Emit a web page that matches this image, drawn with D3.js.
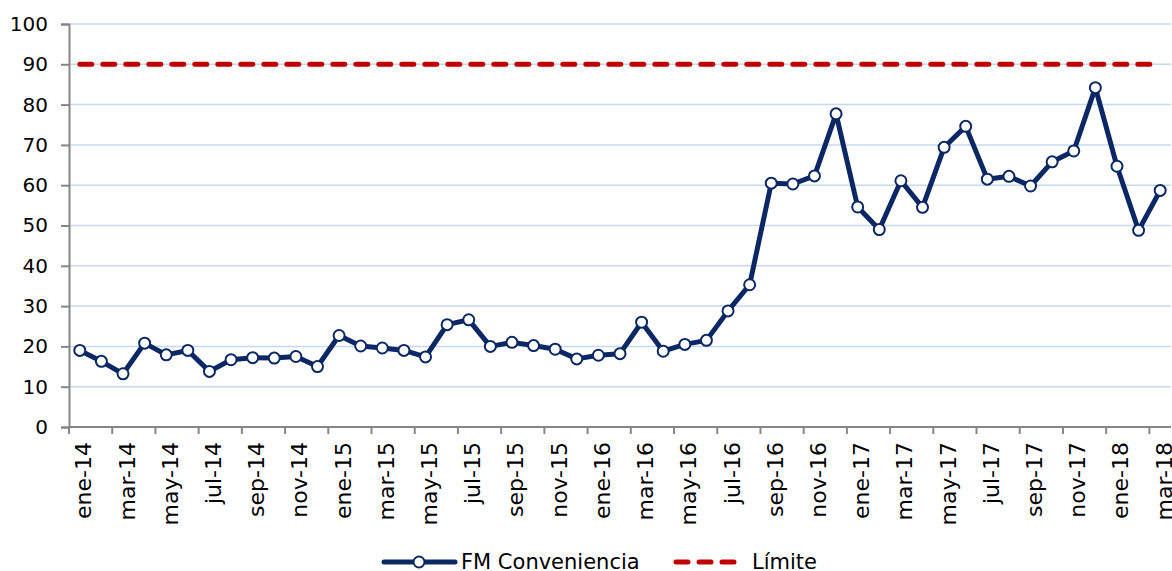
<!DOCTYPE html>
<html><head><meta charset="utf-8">
<script src="https://cdn.jsdelivr.net/npm/d3@7"></script>
<style>
html,body{margin:0;padding:0;background:#fff;}
svg{display:block;font-family:Verdana,"DejaVu Sans",sans-serif;}
</style></head>
<body>
<svg id="chart" width="1172" height="571"></svg>
<script>
const months = ["ene","feb","mar","abr","may","jun","jul","ago","sep","oct","nov","dic"];
const categories = [];
for (const yr of ["14","15","16","17","18"]) for (const m of months) categories.push(m + "-" + yr);
categories.length = 51; // ene-14 .. mar-18

const fmConveniencia = [
  19.0,16.3,13.2,20.8,17.9,19.0,13.8,16.7,17.2,17.1,17.5,15.0,
  22.7,20.1,19.6,19.0,17.4,25.4,26.6,20.0,21.0,20.2,19.3,16.9,
  17.8,18.2,26.0,18.8,20.5,21.5,28.8,35.3,60.5,60.3,62.3,77.7,
  54.6,49.0,61.1,54.5,69.4,74.6,61.5,62.2,59.8,65.8,68.5,84.2,
  64.7,48.8,58.7
];
const limite = categories.map(() => 90);
const yTicks = [0,10,20,30,40,50,60,70,80,90,100];
const seriesNames = ["FM Conveniencia","Límite"];

const svg = d3.select("#chart");
const mLeft = 69, mRight = 1171, mTop = 24, mBottom = 427;

const x = d3.scaleBand().domain(d3.range(categories.length)).range([mLeft, mRight]).padding(0);
const y = d3.scaleLinear().domain([0,100]).range([mBottom, mTop]);
const cx = i => x(i) + x.bandwidth()/2;

// gridlines
svg.append("g").selectAll("line").data(yTicks.filter(t => t > 0)).join("line")
  .attr("x1", mLeft).attr("x2", mRight)
  .attr("y1", d => y(d)).attr("y2", d => y(d))
  .attr("stroke", "#c6d9f0").attr("stroke-width", 1.5);

// y axis
const yAxis = svg.append("g").attr("transform", `translate(${mLeft},0)`)
  .call(d3.axisLeft(y).tickValues(yTicks).tickSize(8).tickPadding(13));
yAxis.select(".domain").attr("stroke", "#868686").attr("stroke-width", 2);
yAxis.selectAll(".tick line").attr("stroke", "#868686").attr("stroke-width", 2);
yAxis.selectAll(".tick text").attr("font-size", 20).attr("fill", "#000")
  .attr("font-family", 'Verdana,"DejaVu Sans",sans-serif');

// x axis
const xAxis = svg.append("g").attr("transform", `translate(0,${mBottom})`);
xAxis.append("line").attr("x1", mLeft).attr("x2", mRight).attr("y1", 0).attr("y2", 0)
  .attr("stroke", "#868686").attr("stroke-width", 2);
const tickBounds = d3.range(0, categories.length, 2);
xAxis.selectAll("line.tk").data(tickBounds).join("line").attr("class","tk")
  .attr("x1", d => x(d)).attr("x2", d => x(d)).attr("y1", 0).attr("y2", 7)
  .attr("stroke", "#868686").attr("stroke-width", 2);
xAxis.selectAll("text").data(tickBounds).join("text")
  .attr("transform", d => `translate(${cx(d) + 11.5},${15}) rotate(-90)`)
  .attr("text-anchor", "end")
  .attr("font-size", 22).attr("fill", "#000")
  .text(d => categories[d]);

// limit line
const line = d3.line().x((d,i) => cx(i)).y(d => y(d));
svg.append("path").datum(limite).attr("d", line)
  .attr("fill", "none").attr("stroke", "#c00000").attr("stroke-width", 5)
  .attr("stroke-dasharray", "12,11").attr("stroke-linecap", "round");

// series line
svg.append("path").datum(fmConveniencia).attr("d", line)
  .attr("fill", "none").attr("stroke", "#0b2865").attr("stroke-width", 5)
  .attr("stroke-linejoin", "round");
svg.append("g").selectAll("circle").data(fmConveniencia).join("circle")
  .attr("cx", (d,i) => cx(i)).attr("cy", d => y(d)).attr("r", 5.5)
  .attr("fill", "#fff").attr("stroke", "#0b2865").attr("stroke-width", 2);

// legend
const lg = svg.append("g");
const ly = 562;
lg.append("line").attr("x1", 384).attr("x2", 455).attr("y1", ly).attr("y2", ly)
  .attr("stroke", "#0b2865").attr("stroke-width", 5).attr("stroke-linecap", "round");
lg.append("circle").attr("cx", 419).attr("cy", ly).attr("r", 5.5)
  .attr("fill", "#fff").attr("stroke", "#0b2865").attr("stroke-width", 2);
lg.append("text").attr("x", 461).attr("y", ly + 7).attr("font-size", 21).attr("fill", "#000")
  .text(seriesNames[0]);
lg.append("line").attr("x1", 676).attr("x2", 738).attr("y1", ly).attr("y2", ly)
  .attr("stroke", "#c00000").attr("stroke-width", 5).attr("stroke-linecap", "round")
  .attr("stroke-dasharray", "12,11");
lg.append("text").attr("x", 752).attr("y", ly + 7).attr("font-size", 21).attr("fill", "#000")
  .text(seriesNames[1]);
</script>
</body></html>
